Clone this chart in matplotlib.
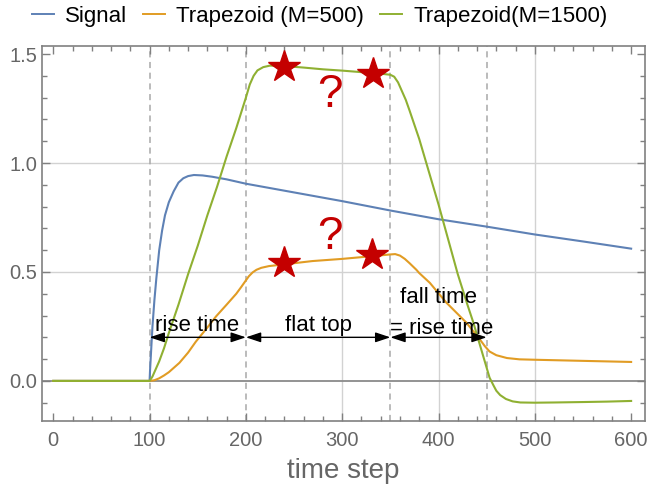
import matplotlib
matplotlib.use("Agg")
import matplotlib.pyplot as plt
from matplotlib.ticker import MultipleLocator, FormatStrFormatter
from matplotlib.lines import Line2D

plt.rcParams['font.family'] = ['Liberation Sans', 'DejaVu Sans']

# values
signal_x = [0, 100, 100.5, 101, 102, 103, 104, 105, 107, 110, 113, 116, 120, 125, 130, 135, 140, 146,
            155, 165, 180, 200, 250, 300, 350, 400, 450, 500, 550, 600]
signal_y = [0, 0, 0.05, 0.09, 0.17, 0.25, 0.31, 0.37, 0.47, 0.60, 0.69, 0.76, 0.82, 0.87, 0.91, 0.93, 0.94, 0.945,
            0.943, 0.937, 0.925, 0.905, 0.865, 0.825, 0.782, 0.742, 0.708, 0.672, 0.64, 0.607]

trap500_x = [0, 100, 105, 110, 115, 120, 131, 140, 148, 160, 169, 180, 190, 195, 199, 203, 207, 211, 216,
             224, 240, 269, 300, 330, 349, 355, 360, 365, 370, 377, 380, 391, 408, 429, 443, 448, 453,
             460, 471, 484, 501, 550, 600]
trap500_y = [0, 0, 0.003, 0.012, 0.025, 0.04, 0.083, 0.13, 0.18, 0.245, 0.296, 0.35, 0.40, 0.43, 0.455, 0.48,
             0.498, 0.51, 0.519, 0.527, 0.535, 0.55, 0.56, 0.572, 0.58, 0.582, 0.575, 0.56, 0.54, 0.51,
             0.495, 0.45, 0.36, 0.267, 0.19, 0.16, 0.135, 0.118, 0.105, 0.099, 0.097, 0.092, 0.087]

trap1500_x = [0, 100, 103, 106, 110, 115, 120, 130, 140, 150, 160, 170, 180, 190, 195, 200, 204, 208, 212,
              218, 225, 240, 260, 280, 300, 320, 340, 350, 354, 358, 362, 366, 370, 380, 390, 400, 410,
              420, 430, 436, 440, 446, 450, 453, 457, 460, 464, 470, 477, 485, 500, 520, 550, 575, 600]
trap1500_y = [0, 0, 0.02, 0.05, 0.09, 0.15, 0.22, 0.35, 0.49, 0.62, 0.76, 0.89, 1.03, 1.16, 1.23, 1.30,
              1.36, 1.40, 1.425, 1.44, 1.447, 1.445, 1.438, 1.43, 1.424, 1.417, 1.41, 1.405, 1.396, 1.37,
              1.33, 1.29, 1.24, 1.11, 0.96, 0.81, 0.65, 0.49, 0.35, 0.27, 0.21, 0.12, 0.06, 0.015, -0.02,
              -0.045, -0.065, -0.083, -0.094, -0.099, -0.10, -0.099, -0.097, -0.095, -0.092]

star_x = [240, 332, 240, 331]
star_y = [1.44, 1.41, 0.54, 0.578]
question_x = [287, 287]
question_y = [1.31, 0.66]
marker_lines = [100, 200, 350, 450]

blue = '#5e81b5'
orange = '#e19c24'
green = '#8fb032'
gray = '#808080'

fig = plt.figure(figsize=(6.5, 4.87), dpi=100)
ax = fig.add_axes([42 / 650, 66 / 487, 603 / 650, 375 / 487])

# grid
for gx in [300, 400, 500]:
    ax.axvline(gx, color='#d2d2d2', lw=1, zorder=0)
for gy in [0.5, 1.0]:
    ax.axhline(gy, color='#d2d2d2', lw=1, zorder=0)
ax.axhline(0, color='#8a8a8a', lw=1.3, zorder=0)
for mx in marker_lines:
    ax.axvline(mx, color='#a8a8a8', lw=1.1, dashes=(4, 3), zorder=1)

ax.plot(signal_x, signal_y, color=blue, lw=1.5, zorder=3)
ax.plot(trap500_x, trap500_y, color=orange, lw=1.5, zorder=3)
ax.plot(trap1500_x, trap1500_y, color=green, lw=1.5, zorder=3)

ax.plot(star_x, star_y, ls='none', marker='*', markersize=24, color='#c40000', zorder=5)
for qx, qy in zip(question_x, question_y):
    ax.text(qx, qy, '?', color='#c40000', fontsize=33, ha='center', va='center', zorder=5)

# arrows
arrow_style = dict(arrowstyle='<|-|>,head_length=0.9,head_width=0.3', color='black', lw=1,
                   shrinkA=0, shrinkB=0)
for x0, x1 in [(100, 200), (200, 350), (350, 450)]:
    ax.annotate('', xy=(x1, 0.2), xytext=(x0, 0.2), arrowprops=arrow_style, zorder=6)
ax.text(149, 0.255, 'rise time', fontsize=16, ha='center', va='center', zorder=6)
ax.text(275, 0.255, 'flat top', fontsize=16, ha='center', va='center', zorder=6)
ax.text(400, 0.385, 'fall time', fontsize=16, ha='center', va='center', zorder=6)
ax.text(403, 0.24, '= rise time', fontsize=16, ha='center', va='center', zorder=6)

ax.set_xlim(-11.7, 614.4)
ax.set_ylim(-0.184, 1.537)
ax.xaxis.set_major_locator(MultipleLocator(100))
ax.xaxis.set_minor_locator(MultipleLocator(20))
ax.yaxis.set_major_locator(MultipleLocator(0.5))
ax.yaxis.set_minor_locator(MultipleLocator(0.1))
ax.yaxis.set_major_formatter(FormatStrFormatter('%.1f'))
ax.tick_params(which='both', direction='in', top=True, right=True, color=gray,
               labelcolor='#666666', labelsize=14.5)
ax.tick_params(which='major', length=6, width=1)
ax.tick_params(which='minor', length=3.5, width=1)
ax.tick_params(axis='x', pad=7)
for s in ax.spines.values():
    s.set_color(gray)
    s.set_linewidth(1.2)

ax.set_xlabel('time step', fontsize=20, color='#666666', labelpad=6)

handles = [Line2D([], [], color=blue, lw=1.4),
           Line2D([], [], color=orange, lw=1.4),
           Line2D([], [], color=green, lw=1.4)]
fig.legend(handles, ['Signal', 'Trapezoid (M=500)', 'Trapezoid(M=1500)'], loc='center',
           bbox_to_anchor=(0.492, 0.966), ncol=3, frameon=False, fontsize=16, handlelength=1.0,
           handletextpad=0.5, columnspacing=0.7)

fig.savefig('out.png', dpi=100)
